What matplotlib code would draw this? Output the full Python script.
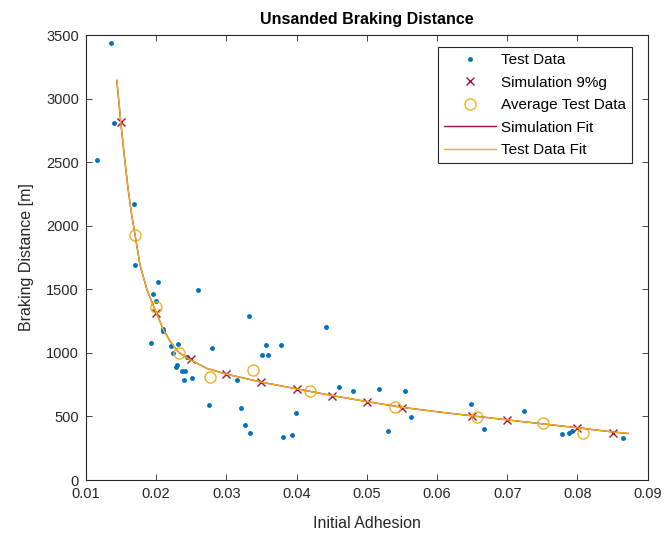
import matplotlib
matplotlib.use("Agg")
import matplotlib.pyplot as plt

plt.rcParams['font.family'] = ['Liberation Sans', 'DejaVu Sans']

# test data (initial adhesion, braking distance)
test_x = [0.01356, 0.01403, 0.01152, 0.01684, 0.01698, 0.02026, 0.01959, 0.01993,
          0.02592, 0.03322, 0.04415, 0.02101, 0.02101, 0.01930, 0.02215, 0.02315,
          0.02795, 0.03564, 0.03778, 0.03503, 0.03588, 0.02235, 0.02434, 0.02292,
          0.02282, 0.02363, 0.02410, 0.02396, 0.02506, 0.03147, 0.02752, 0.03204,
          0.03991, 0.03265, 0.03340, 0.03802, 0.03939, 0.04604, 0.04804, 0.05174,
          0.05539, 0.05635, 0.05303, 0.06479, 0.06664, 0.07240, 0.07786, 0.07876,
          0.07929, 0.08650]
test_y = [3435, 2808, 2519, 2168, 1691, 1560, 1463, 1405,
          1497, 1292, 1203, 1190, 1169, 1075, 1054, 1070,
          1038, 1059, 1059, 985, 985, 996, 965, 902,
          886, 857, 857, 784, 805, 789, 590, 569,
          527, 430, 372, 341, 352, 731, 698, 713,
          698, 493, 383, 600, 399, 543, 359, 370,
          388, 333]

sim_x = [0.015, 0.020, 0.025, 0.030, 0.035, 0.040, 0.045, 0.050, 0.055,
         0.065, 0.070, 0.080, 0.085]
sim_y = [2813, 1311, 949, 831, 768, 718, 663, 616, 564,
         506, 472, 410, 367]

avg_x = [0.01698, 0.01993, 0.0232, 0.02771, 0.03379, 0.04191, 0.05402,
         0.06566, 0.0751, 0.0808]
avg_y = [1927, 1358, 1001, 812, 863, 702, 574, 498, 451, 367]

# fit curves
fit_x = [0.0144, 0.0150, 0.0155, 0.0160, 0.0165, 0.0170, 0.0177, 0.0187,
         0.0198, 0.0210, 0.0220, 0.0232, 0.0248, 0.0272, 0.0300, 0.0350,
         0.0400, 0.0450, 0.0500, 0.0550, 0.0600, 0.0650, 0.0700, 0.0750,
         0.0800, 0.0850, 0.0872]
sim_fit_y = [3140, 2790, 2530, 2290, 2090, 1925, 1690, 1495,
             1345, 1185, 1090, 1005, 948, 878, 833, 770,
             717, 665, 617, 572, 537, 505, 473, 442,
             411, 378, 366]
test_fit_y = [3146, 2795, 2532, 2292, 2090, 1925, 1690, 1495,
              1345, 1185, 1090, 1005, 948, 878, 833, 770,
              717, 665, 617, 572, 537, 505, 473, 442,
              411, 378, 367]

blue = '#0072BD'
red = '#A2142F'
orange = '#EDB120'
dark = '#262626'

fig = plt.figure(figsize=(6.68, 5.33), dpi=100)
ax = fig.add_axes([0.1287, 0.0994, 0.8408, 0.8349])

ax.plot(test_x, test_y, '.', color=blue, markersize=5, label='Test Data')
ax.plot(sim_x, sim_y, 'x', color=red, markersize=5.5, mew=1, label='Simulation 9%g')
ax.plot(avg_x, avg_y, 'o', mfc='none', mec=orange, markersize=8, mew=1,
        label='Average Test Data')
ax.plot(fit_x, sim_fit_y, '-', color=red, lw=1, label='Simulation Fit')
ax.plot(fit_x, test_fit_y, '-', color=orange, lw=1, label='Test Data Fit')

ax.set_xlim(0.01, 0.09)
ax.set_ylim(0, 3500)
ax.set_xticks([0.01, 0.02, 0.03, 0.04, 0.05, 0.06, 0.07, 0.08, 0.09])
ax.set_xticklabels(['0.01', '0.02', '0.03', '0.04', '0.05', '0.06', '0.07', '0.08', '0.09'])
ax.set_yticks(range(0, 3501, 500))
ax.tick_params(direction='in', top=True, right=True, length=4, width=0.6,
               labelsize=10.5, colors=dark, pad=5)
for s in ax.spines.values():
    s.set_color(dark)
    s.set_linewidth(0.8)

ax.set_title('Unsanded Braking Distance', fontsize=11.5, fontweight='bold', color='black', pad=8)
ax.set_xlabel('Initial Adhesion', fontsize=11.5, color=dark, labelpad=11)
ax.set_ylabel('Braking Distance [m]', fontsize=11.5, color=dark, labelpad=9)

leg = ax.legend(loc='upper right', bbox_to_anchor=(0.972, 0.973), fontsize=11,
                frameon=True, fancybox=False, framealpha=1, edgecolor=dark,
                borderpad=0.4, labelspacing=0.56, handlelength=3.4,
                handletextpad=0.3, borderaxespad=0)
leg.get_frame().set_linewidth(0.8)

fig.savefig('out.png', dpi=100)
